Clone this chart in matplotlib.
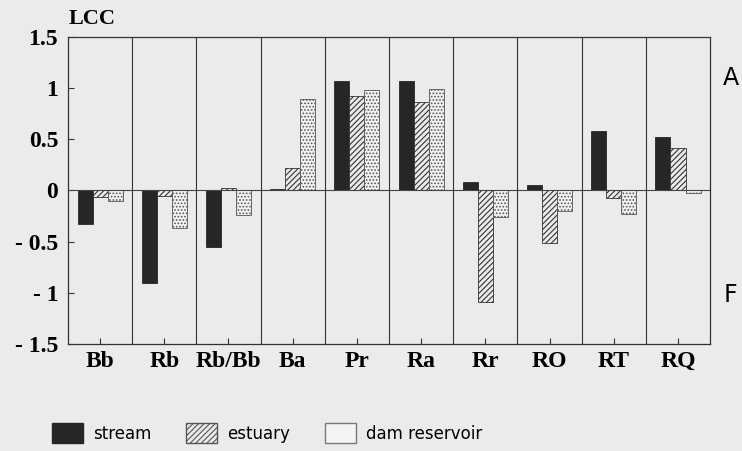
import numpy as np
import matplotlib.pyplot as plt
from matplotlib.patches import Patch

categories = ['Bb', 'Rb', 'Rb/Bb', 'Ba', 'Pr', 'Ra', 'Rr', 'RO', 'RT', 'RQ']
stream = [-0.33, -0.90, -0.55, 0.01, 1.07, 1.07, 0.08, 0.05, 0.58, 0.52]
estuary = [-0.06, -0.05, 0.02, 0.22, 0.92, 0.86, -1.09, -0.51, -0.07, 0.42]
dam_reservoir = [-0.10, -0.37, -0.24, 0.89, 0.98, 0.99, -0.26, -0.20, -0.23, -0.02]
yticks = [1.5, 1, 0.5, 0, -0.5, -1, -1.5]
ytick_labels = ['1.5', '1', '0.5', '0', '- 0.5', '- 1', '- 1.5']

bg = '#ebebeb'
serif = 'Liberation Serif'

fig = plt.figure(figsize=(7.42, 4.51), dpi=100, facecolor=bg)
ax = fig.add_axes([0.0916, 0.2373, 0.8654, 0.6807], facecolor=bg)

x = np.arange(len(categories))
w = 0.234
plt.rcParams['hatch.linewidth'] = 0.8

ax.bar(x - w, stream, w, color='#262626', edgecolor='#262626', linewidth=0.6)
ax.bar(x, estuary, w, color=bg, edgecolor='#333333', hatch='//////', linewidth=0.6)
ax.bar(x + w, dam_reservoir, w, color='#f2f2f2', edgecolor='#555555', hatch='.....', linewidth=0.6)

ax.set_xlim(-0.5, len(categories) - 0.5)
ax.set_ylim(-1.5, 1.5)
ax.axhline(0, color='#444444', linewidth=0.8)
for sep in np.arange(0.5, len(categories) - 0.5, 1):
    ax.axvline(sep, color='#333333', linewidth=0.8)

for s in ax.spines.values():
    s.set_color('#333333')
    s.set_linewidth(0.9)

ax.set_yticks(yticks)
ax.set_yticklabels(ytick_labels, fontfamily=serif, fontweight='bold', fontsize=17)
ax.set_xticks(x)
ax.set_xticklabels(categories, fontfamily=serif, fontweight='bold', fontsize=17)
ax.tick_params(axis='both', direction='in', length=4, color='#333333', pad=5)
ax.tick_params(axis='y', pad=7)

fig.text(0.093, 0.958, 'LCC', fontfamily=serif, fontweight='bold', fontsize=16, ha='left', va='center')
fig.text(0.985, 0.827, 'A', fontfamily='DejaVu Sans', fontsize=17, ha='center', va='center')
fig.text(0.985, 0.346, 'F', fontfamily='DejaVu Sans', fontsize=17, ha='center', va='center')

handles = [
    Patch(facecolor='#262626', edgecolor='#262626'),
    Patch(facecolor=bg, edgecolor='#555555', hatch='//////'),
    Patch(facecolor='#f4f4f4', edgecolor='#777777'),
]
fig.legend(handles, ['stream', 'estuary', 'dam reservoir'], loc='center left',
           bbox_to_anchor=(0.05, 0.04), ncol=3, frameon=False,
           prop={'family': 'DejaVu Sans', 'size': 12},
           handlelength=1.85, handleheight=1.4, columnspacing=2.1, handletextpad=0.6)

fig.savefig('out.png', dpi=100, facecolor=bg)
